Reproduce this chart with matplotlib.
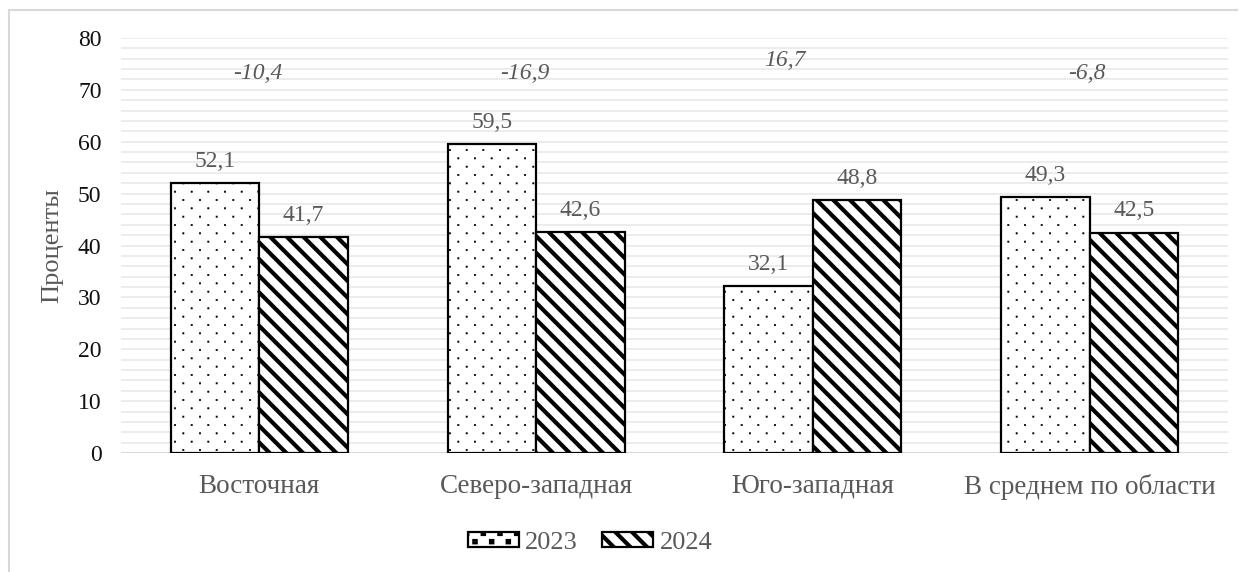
import numpy as np
import matplotlib
matplotlib.use("Agg")
import matplotlib.pyplot as plt
import matplotlib.hatch as mhatch
from matplotlib.path import Path
from matplotlib.lines import Line2D

# data
regions = ["Восточная", "Северо-западная", "Юго-западная", "В среднем по области"]
years = ["2023", "2024"]
share_2023 = [52.1, 59.5, 32.1, 49.3]
share_2024 = [41.7, 42.6, 48.8, 42.5]
change = ["-10,4", "-16,9", "16,7", "-6,8"]
change_y = [73.2, 73.2, 75.7, 73.2]


# staggered dot grid for the '.' hatch (rows twice as dense as columns)
class StaggeredDots(mhatch.HatchPatternBase):
    def __init__(self, hatch, density):
        self.num_cols = int(hatch.count('.') * density)
        self.num_rows = self.num_cols * 2
        self.num_vertices = (self.num_rows + 1) * (self.num_cols + 1) * 5 if self.num_cols else 0

    def set_vertices_and_codes(self, vertices, codes):
        dx = 1.0 / self.num_cols
        dy = 1.0 / self.num_rows
        sq = np.array([[-1, -1], [1, -1], [1, 1], [-1, 1], [-1, -1]], float) * dx * 0.04
        sq_codes = [Path.MOVETO, Path.LINETO, Path.LINETO, Path.LINETO, Path.CLOSEPOLY]
        k = 0
        for row in range(self.num_rows + 1):
            shift = 0.0 if row % 2 == 0 else dx / 2
            for col in range(self.num_cols + 1):
                vertices[k:k + 5] = sq + [col * dx + shift, row * dy]
                codes[k:k + 5] = sq_codes
                k += 5


mhatch._hatch_types = [StaggeredDots if t is mhatch.SmallFilledCircles else t
                       for t in mhatch._hatch_types]

plt.rcParams["font.family"] = ["Liberation Serif", "DejaVu Serif"]
grey_txt = "#595959"

fig = plt.figure(figsize=(12.46, 5.72), dpi=100)
ax = fig.add_axes([0.0971, 0.208, 0.8885, 0.7256])

x = np.arange(len(regions))
width = 0.32

plt.rcParams["hatch.linewidth"] = 0.4
b1 = ax.bar(x - width / 2, share_2023, width, facecolor="white", edgecolor="black",
            linewidth=1.6, hatch=".", label=years[0], zorder=3)
plt.rcParams["hatch.linewidth"] = 3.0
b2 = ax.bar(x + width / 2, share_2024, width, facecolor="white", edgecolor="black",
            linewidth=1.6, hatch="\\\\", label=years[1], zorder=3)
for bars, lw in ((b1, 0.4), (b2, 3.0)):
    for p in bars:
        if hasattr(p, "set_hatch_linewidth"):
            p.set_hatch_linewidth(lw)

# value labels
for bars in (b1, b2):
    for p in bars:
        h = p.get_height()
        ax.annotate(f"{h:.1f}".replace(".", ","), (p.get_x() + p.get_width() / 2, h),
                    xytext=(0, 8), textcoords="offset points", ha="center", va="bottom",
                    fontsize=17, color=grey_txt)

# change between years
dx = [-0.005, -0.04, -0.1, -0.01]
for i, (txt, yy) in enumerate(zip(change, change_y)):
    ax.text(x[i] + dx[i], yy, txt, ha="center", va="center", fontsize=17,
            style="italic", color=grey_txt)

ax.set_xlim(-0.5, len(regions) - 0.5)
ax.set_ylim(0, 80)
ax.set_yticks(np.arange(0, 81, 10))
ax.set_yticks(np.arange(0, 81, 2), minor=True)
ax.set_xticks(x, regions)
ax.grid(axis="y", which="both", color="#ebebeb", linewidth=1.3, zorder=0)
ax.set_axisbelow(True)
ax.axhline(0, color="#d9d9d9", linewidth=1.5, zorder=2)
ax.tick_params(axis="y", which="both", length=0, pad=14, labelsize=17, labelcolor="#111111")
ax.tick_params(axis="x", length=0, pad=15, labelsize=19.5, labelcolor=grey_txt)
for s in ax.spines.values():
    s.set_visible(False)

ax.set_ylabel("Проценты", fontsize=19, color=grey_txt)
ax.yaxis.set_label_coords(-0.0524, 0.5)

fig.legend(handles=[b1, b2], labels=years, loc="center", bbox_to_anchor=(0.4735, 0.051),
           ncol=2, frameon=False, fontsize=19, labelcolor=grey_txt,
           handlelength=1.93, handleheight=0.5, handletextpad=0.25, columnspacing=0.9)

# chart area border (top and left edges)
fig.add_artist(Line2D([9 / 1246, 9 / 1246], [0, 1 - 10 / 572], color="#d9d9d9", linewidth=1.5))
fig.add_artist(Line2D([9 / 1246, 1237 / 1246], [1 - 10 / 572, 1 - 10 / 572], color="#d9d9d9", linewidth=1.5))

fig.savefig("out.png", dpi=100)
